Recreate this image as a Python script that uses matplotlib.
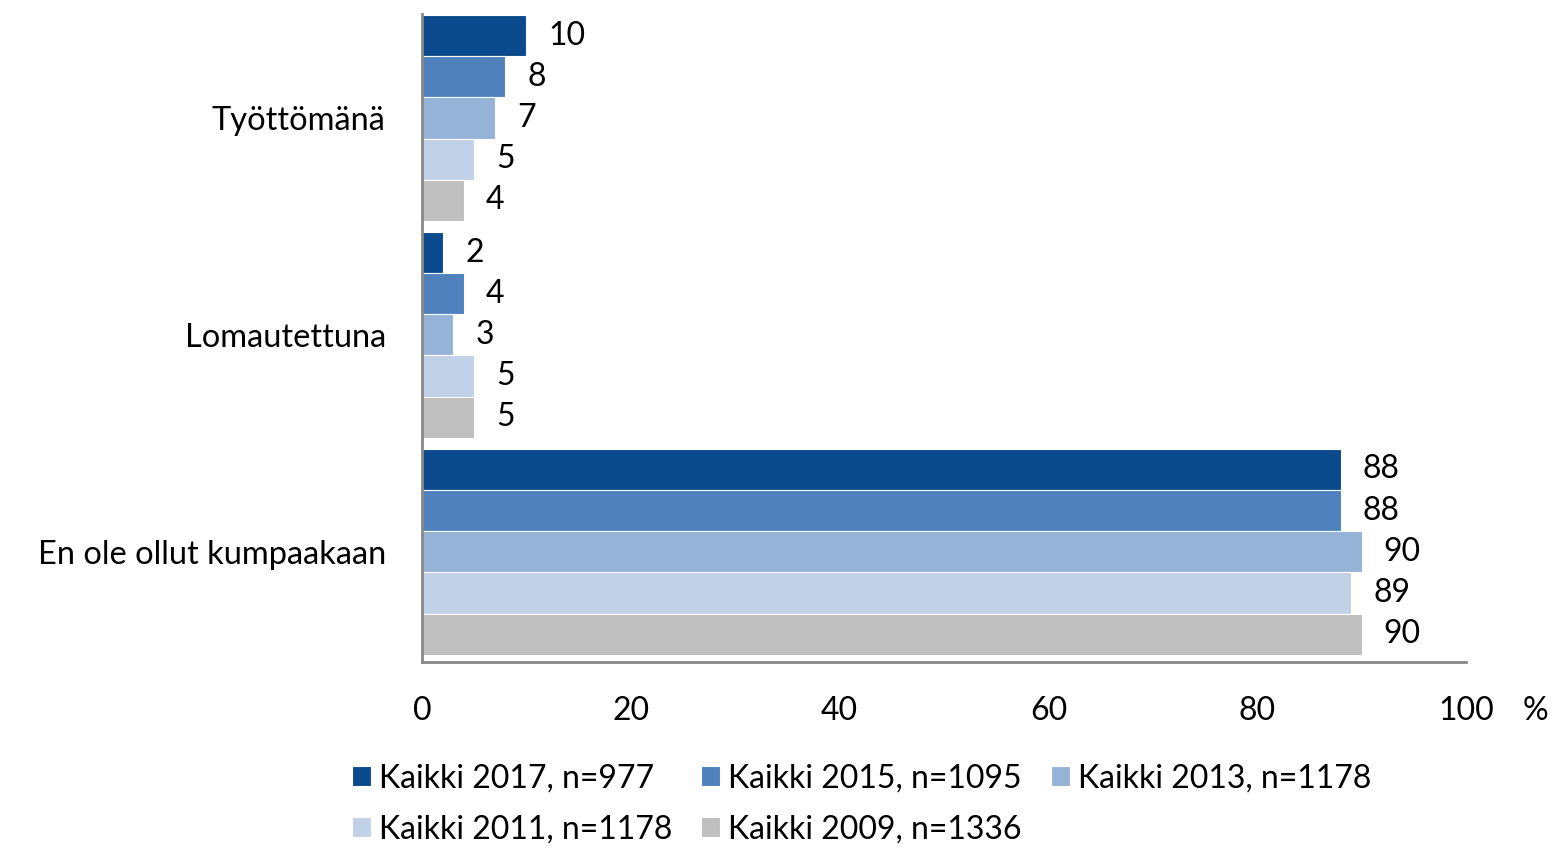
import matplotlib.pyplot as plt
import numpy as np

categories = ["Työttömänä", "Lomautettuna", "En ole ollut kumpaakaan"]
series = ["Kaikki 2017, n=977", "Kaikki 2015, n=1095", "Kaikki 2013, n=1178",
          "Kaikki 2011, n=1178", "Kaikki 2009, n=1336"]
v2017 = [10, 2, 88]
v2015 = [8, 4, 88]
v2013 = [7, 3, 90]
v2011 = [5, 5, 89]
v2009 = [4, 5, 90]
values = [v2017, v2015, v2013, v2011, v2009]
colors = ["#0B4A8C", "#4F81BD", "#95B3D7", "#C1D2E8", "#BFBFBF"]

plt.rcParams["font.family"] = ["Lato", "DejaVu Sans"]
fs = 23

fig = plt.figure(figsize=(15.53, 8.48), dpi=100)
ax = fig.add_axes([0.2717, 0.219, 0.6723, 0.765])

y = np.arange(len(categories))
h = 0.19
handles = []
for i, (vals, col, lab) in enumerate(zip(values, colors, series)):
    pos = y - 2 * h + i * h
    b = ax.barh(pos, vals, height=h, color=col, label=lab, edgecolor="white", linewidth=0.8)
    handles.append(b)
    for p, v in zip(pos, vals):
        ax.annotate(str(v), (v, p), xytext=(16, 0), textcoords="offset points",
                    ha="left", va="center", fontsize=fs)

ax.set_xlim(0, 100)
ax.set_ylim(2.51, -0.482)
ax.set_yticks(y)
ax.set_yticklabels(categories, fontsize=fs + 0.5)
ax.set_xticks(np.arange(0, 101, 20))
ax.tick_params(axis="x", labelsize=fs, length=0, pad=24)
ax.tick_params(axis="y", length=0, pad=26)
for s in ["top", "right"]:
    ax.spines[s].set_visible(False)
for s in ["left", "bottom"]:
    ax.spines[s].set_color("#888888")
    ax.spines[s].set_linewidth(2)
ax.spines["bottom"].set_bounds(0, 100)

fig.text(0.9885, 0.162, "%", fontsize=fs, ha="center", va="center")

order = [0, 3, 1, 4, 2]
fig.legend([handles[k] for k in order], [series[k] for k in order],
           ncol=3, loc="center left", bbox_to_anchor=(0.208, 0.052),
           frameon=False, fontsize=fs, handlelength=0.6, handleheight=0.6,
           handletextpad=0.25, columnspacing=0.9, labelspacing=0.65)

fig.savefig("out.png", dpi=100)
